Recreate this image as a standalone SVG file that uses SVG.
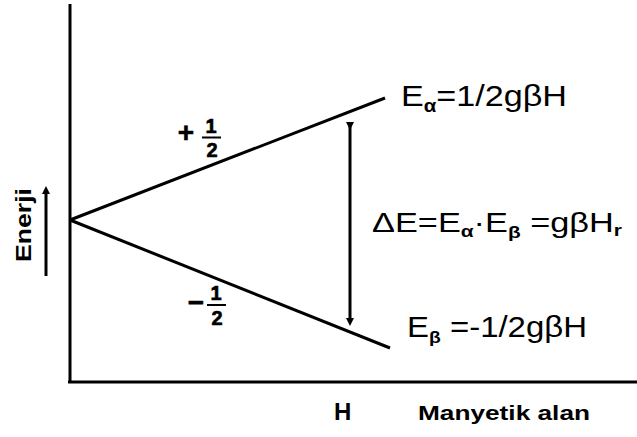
<svg xmlns="http://www.w3.org/2000/svg" width="637" height="437" viewBox="0 0 637 437">
<style>
.ln{stroke:#000;stroke-width:3;fill:none}
.t{font-family:"Liberation Sans",Arial,sans-serif;fill:#000}
.b{font-weight:bold}
.fr{font-family:"Liberation Sans",Arial,sans-serif;font-weight:bold;fill:#000;stroke:#000;stroke-width:0.6}
</style>
<defs>
<marker id="ah" markerWidth="8" markerHeight="8" refX="4" refY="4" orient="auto" markerUnits="userSpaceOnUse">
<path d="M0,0 L8,4 L0,8 Z" fill="#000"/>
</marker>
</defs>
<rect width="637" height="437" fill="#fff"/>
<g id="axes">
<line class="ln" x1="70" y1="4" x2="70" y2="383"/>
<line class="ln" x1="68" y1="382" x2="637" y2="382"/>
</g>
<g id="connectors">
<line class="ln" x1="70" y1="220" x2="385" y2="98"/>
<line class="ln" x1="70" y1="220" x2="390" y2="348"/>
<line class="ln" x1="350" y1="126" x2="350" y2="322" marker-start="url(#ah)" marker-end="url(#ah)"/>
<line class="ln" x1="46" y1="276" x2="46" y2="190" marker-end="url(#ah)"/>
</g>
<g id="energy-label">
<text class="t b" font-size="22" transform="translate(31,225) rotate(-90)" text-anchor="middle" textLength="74" lengthAdjust="spacingAndGlyphs">Enerji</text>
</g>
<g id="plus-half">
<text class="fr" x="186" y="142" font-size="28" text-anchor="middle">+</text>
<text class="fr" x="211" y="133" font-size="20" text-anchor="middle">1</text>
<line x1="202" y1="137.5" x2="221" y2="137.5" stroke="#000" stroke-width="2"/>
<text class="fr" x="212" y="157" font-size="20" text-anchor="middle">2</text>
</g>
<g id="minus-half">
<text class="fr" x="196" y="312" font-size="28" text-anchor="middle">−</text>
<text class="fr" x="216" y="300" font-size="20" text-anchor="middle">1</text>
<line x1="207" y1="305" x2="226" y2="305" stroke="#000" stroke-width="2"/>
<text class="fr" x="217" y="325" font-size="20" text-anchor="middle">2</text>
</g>
<g id="e-alpha">
<text class="t" x="401" y="106" font-size="30" textLength="166" lengthAdjust="spacingAndGlyphs">E<tspan font-size="18" font-weight="bold" dy="6">α</tspan><tspan dy="-6">=1/2gβH</tspan></text>
</g>
<g id="delta-e">
<text class="t" x="372" y="232" font-size="28" textLength="250" lengthAdjust="spacingAndGlyphs">ΔE=E<tspan font-size="17" font-weight="bold" dy="5">α</tspan><tspan dy="-5">·E</tspan><tspan font-size="17" font-weight="bold" dy="6">β</tspan><tspan dy="-6"> =gβH</tspan><tspan font-size="17" font-weight="bold" dy="4">r</tspan></text>
</g>
<g id="e-beta">
<text class="t" x="407" y="337" font-size="29" textLength="180" lengthAdjust="spacingAndGlyphs">E<tspan font-size="17" font-weight="bold" dy="6">β</tspan><tspan dy="-6"> =-1/2gβH</tspan></text>
</g>
<g id="h-label">
<text class="t b" x="334" y="420" font-size="24">H</text>
<text class="t b" x="418" y="420" font-size="21" textLength="172" lengthAdjust="spacingAndGlyphs">Manyetik alan</text>
</g>
</svg>
